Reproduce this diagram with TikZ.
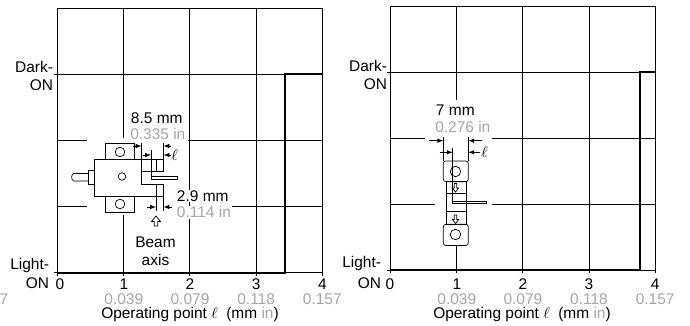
\documentclass[tikz,border=0pt]{standalone}
\usepackage{fontspec}
\setmainfont{Liberation Sans}
\usetikzlibrary{positioning}
\definecolor{inchgray}{RGB}{165,165,165}
\tikzset{>=latex,
  grid/.style={line width=0.6pt},
  stepline/.style={line width=1.5pt},
  part/.style={line width=0.5pt},
  dimline/.style={line width=0.45pt},
  lbl/.style={font=\fontsize{11}{13}\selectfont,inner sep=0.5pt},
  inch/.style={lbl,text=inchgray,inner sep=0pt},
  blank/.style={fill=white}}

\begin{document}
\begin{tikzpicture}[x=0.025cm,y=-0.025cm]
\useasboundingbox (0,0) rectangle (690,326);

% both charts: grid and switching curve
\foreach \ox/\oy/\sx in {57.7/8.3/285,390.7/6/640} {
  \foreach \k in {0,...,4} {
    \draw[grid] ({\ox+66.1*\k},\oy) -- ({\ox+66.1*\k},{\oy+267.5});
  }
  \foreach \k in {0,2,3} \draw[grid] (\ox,{\oy+66.1*\k}) -- ({\ox+264.4},{\oy+66.1*\k});
  \foreach \k in {1,4} \draw[grid] ({\ox-3.5},{\oy+66.1*\k}) -- ({\ox+264.4},{\oy+66.1*\k});
  \draw[stepline] (\ox,{\oy+264.4}) -- (\sx,{\oy+264.4}) -- (\sx,{\oy+66.1}) -- ({\ox+264.4},{\oy+66.1});
}

% axis labels
\node[lbl,anchor=east] (dkL) at (54,66.7) {Dark-};
\node[lbl,anchor=east] (onL) at (54,85) {ON};
\node[lbl,anchor=east] (ltL) at (50,266) {Light-};
\node[lbl,anchor=east] (ofL) at (50,283) {ON};
\node[lbl] (zL) at (60,284) {0};
\node[lbl,anchor=east] (dkR) at (388,65.5) {Dark-};
\node[lbl,anchor=east] (onR) at (388,84) {ON};
\node[lbl,anchor=east] (ltR) at (382,263.5) {Light-};
\node[lbl,anchor=east] (ofR) at (382,283) {ON};
\node[lbl] (zR) at (390,284) {0};
\foreach \n/\v in {1/0.039,2/0.079,3/0.118,4/0.157} {
  \node[lbl] (nL\n) at ({57.7+66.15*\n},284) {\n};
  \node[inch] (iL\n) at ({57.7+66.15*\n},299) {\v};
  \node[lbl] (nR\n) at ({390.7+66.1*\n},284) {\n};
  \node[inch] (iR\n) at ({390.7+66.1*\n},299) {\v};
}
\node[inch,anchor=east] (iX) at (8.5,299) {0.157};
\node[lbl,inner sep=0pt] (xtL) at (190,315) {Operating point $\ell$\ \ (mm \textcolor{inchgray}{in})};
\node[lbl,inner sep=0pt] (xtR) at (522,315) {Operating point $\ell$\ \ (mm \textcolor{inchgray}{in})};

% left sensor
\fill[white] (86.7,138) rectangle (188.3,215);
\draw[part] (88.3,173.5) -- (73.5,173.5) .. controls (71,175) and (71,179.5) .. (73.5,181) -- (88.3,181);
\draw[part] (88.3,170) rectangle (94.3,184.3);
\draw[part] (105,143.3) rectangle (134.5,159.3);
\draw[part] (105,196) rectangle (134.5,212.5);
\draw[part] (94.3,159.3) -- (163.5,159.3) -- (163.5,171) -- (141.5,171) -- (141.5,184)
  -- (163.5,184) -- (163.5,196) -- (94.3,196) -- cycle;
\draw[part] (120,152) circle[radius=3.4pt];
\draw[part] (122,176.5) circle[radius=2.7pt];
\draw[part] (120,204) circle[radius=3.4pt];
\draw[part] (151,176.5) rectangle (177.5,179.5);
\draw[dimline] (141.5,143) -- (141.5,171);
\draw[dimline] (151,150) -- (151,176.5);
\draw[dimline] (156,159.3) -- (156,171);
\draw[dimline] (156,184) -- (156,211);
\draw[dimline] (163.5,143) -- (163.5,159.3);
\draw[dimline] (163.5,196) -- (163.5,211);
\draw[dimline,->] (133,146) -- (141.5,146);
\draw[dimline,->] (143,155) -- (151,155);
\draw[dimline,->] (171,146) -- (163.5,146);
\draw[dimline,->] (171,155) -- (163.5,155);
\draw[dimline,->] (147,207) -- (156,207);
\draw[dimline,->] (172,207) -- (163.5,207);
\draw[part,fill=white] (156,216) -- (160.5,221.5) -- (157.7,221.5) -- (157.7,226)
  -- (154.3,226) -- (154.3,221.5) -- (151.5,221.5) -- cycle;
\node[lbl,anchor=west] (mmA) at (130,118) {8.5 mm};
\node[inch,anchor=west] (inA) at (130,134) {0.335 in};
\node[lbl,anchor=west] (elA) at (170.5,155) {$\ell$};
\node[lbl,anchor=west,blank] (mmB) at (176,195.7) {2.9 mm};
\node[inch,anchor=west,blank,inner sep=0.5pt] (inB) at (176,212.3) {0.114 in};
\node[lbl,align=center] (beam) at (155.5,251) {Beam\\axis};

% right sensor
\fill[white] (425,100) rectangle (491.7,166);
\fill[white] (435,166) rectangle (491.7,245);
\draw[part,rounded corners=1.8pt] (443.3,161) rectangle (468.3,181.7);
\draw[part,rounded corners=1.8pt] (443.3,224.3) rectangle (468.3,245.5);
\draw[part] (446,181.7) rectangle (466.7,224.3);
\draw[part] (446,193.5) -- (466.7,193.5);
\draw[part] (446,211) -- (466.7,211);
\draw[part] (455.5,171.5) circle[radius=3.7pt];
\draw[part] (455.5,234.5) circle[radius=3.7pt];
\draw[part] (452.7,201) rectangle (486.5,203.5);
\draw[dimline] (452.7,148) -- (452.7,201);
\draw[dimline] (443.3,137) -- (443.3,161);
\draw[dimline] (468.3,137) -- (468.3,161);
\draw[dimline,->] (428.5,140.7) -- (443.3,140.7);
\draw[dimline,->] (482,140.7) -- (468.3,140.7);
\draw[dimline,->] (439.5,152.3) -- (452.7,152.3);
\draw[dimline,->] (480,152.3) -- (468.3,152.3);
\foreach \ty in {183.5,215} {
  \draw[part] (455.5,\ty+8.5) -- (452.3,\ty+4.5) -- (454.2,\ty+4.5) -- (454.2,\ty)
    -- (456.8,\ty) -- (456.8,\ty+4.5) -- (458.7,\ty+4.5) -- cycle;
}
\node[lbl,anchor=west] (mmC) at (435,110) {7 mm};
\node[inch,anchor=west] (inC) at (435,127.3) {0.276 in};
\node[lbl,anchor=west] (elC) at (480.5,152.3) {$\ell$};
\end{tikzpicture}
\end{document}
